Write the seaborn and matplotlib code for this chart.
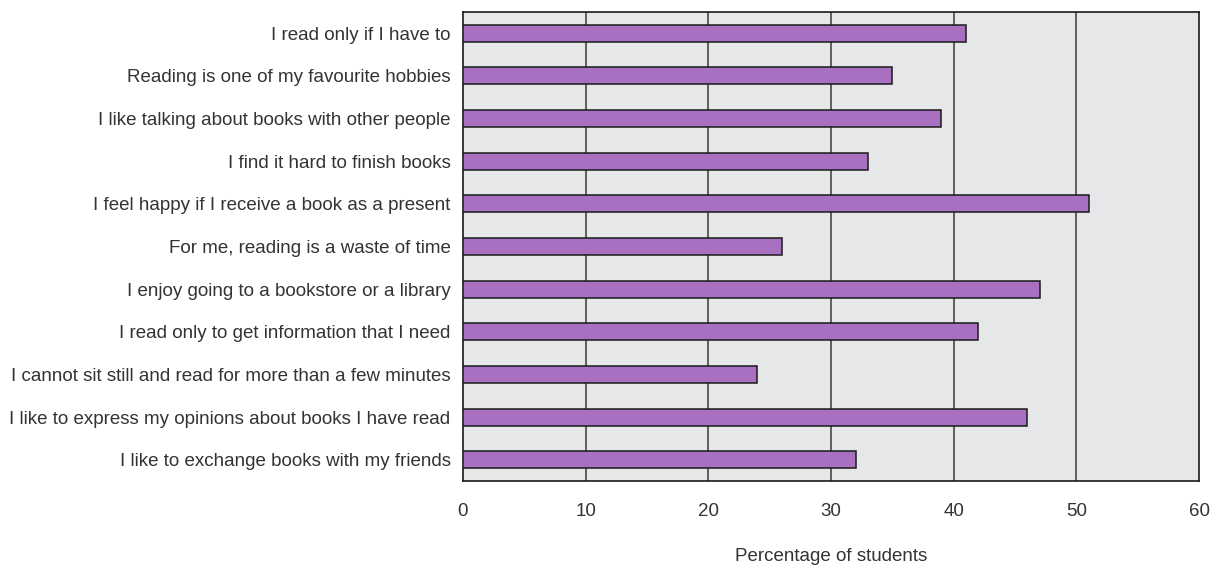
import matplotlib
matplotlib.use("Agg")
import matplotlib.pyplot as plt
import seaborn as sns
import pandas as pd

categories = [
    "I read only if I have to",
    "Reading is one of my favourite hobbies",
    "I like talking about books with other people",
    "I find it hard to finish books",
    "I feel happy if I receive a book as a present",
    "For me, reading is a waste of time",
    "I enjoy going to a bookstore or a library",
    "I read only to get information that I need",
    "I cannot sit still and read for more than a few minutes",
    "I like to express my opinions about books I have read",
    "I like to exchange books with my friends",
]
values = [41, 35, 39, 33, 51, 26, 47, 42, 24, 46, 32]
x_ticks = [0, 10, 20, 30, 40, 50, 60]
x_label = "Percentage of students"

df = pd.DataFrame({"statement": categories, "pct": values})

sns.set_theme(style="white")
plt.rcParams["font.family"] = ["Liberation Sans", "DejaVu Sans"]

fig = plt.figure(figsize=(12.11, 5.67), dpi=100)
ax = fig.add_axes([463 / 1211, 1 - 481 / 567, (1199 - 463) / 1211, (481 - 12) / 567])
ax.set_facecolor("#e6e7e8")

sns.barplot(data=df, x="pct", y="statement", orient="h", color="#a970c2",
            saturation=1, width=0.4, edgecolor="#1a1a1a", linewidth=1.1, ax=ax, zorder=3)

ax.set_xlim(0, 60)
ax.set_xticks(x_ticks)
ax.set_xticklabels([str(t) for t in x_ticks])
for t in x_ticks[1:-1]:
    ax.axvline(t, color="#3a3a3a", linewidth=1.1, zorder=1)

for s in ax.spines.values():
    s.set_visible(True)
    s.set_color("#1a1a1a")
    s.set_linewidth(1.2)

ax.tick_params(axis="y", length=0, pad=9, labelsize=13.5, labelcolor="#333333")
ax.tick_params(axis="x", length=0, pad=16, labelsize=13.5, labelcolor="#333333")
ax.set_ylabel("")
ax.set_xlabel(x_label, fontsize=13.5, color="#333333")
ax.xaxis.set_label_coords(0.5, -0.142)

fig.savefig("out.png", dpi=100)
